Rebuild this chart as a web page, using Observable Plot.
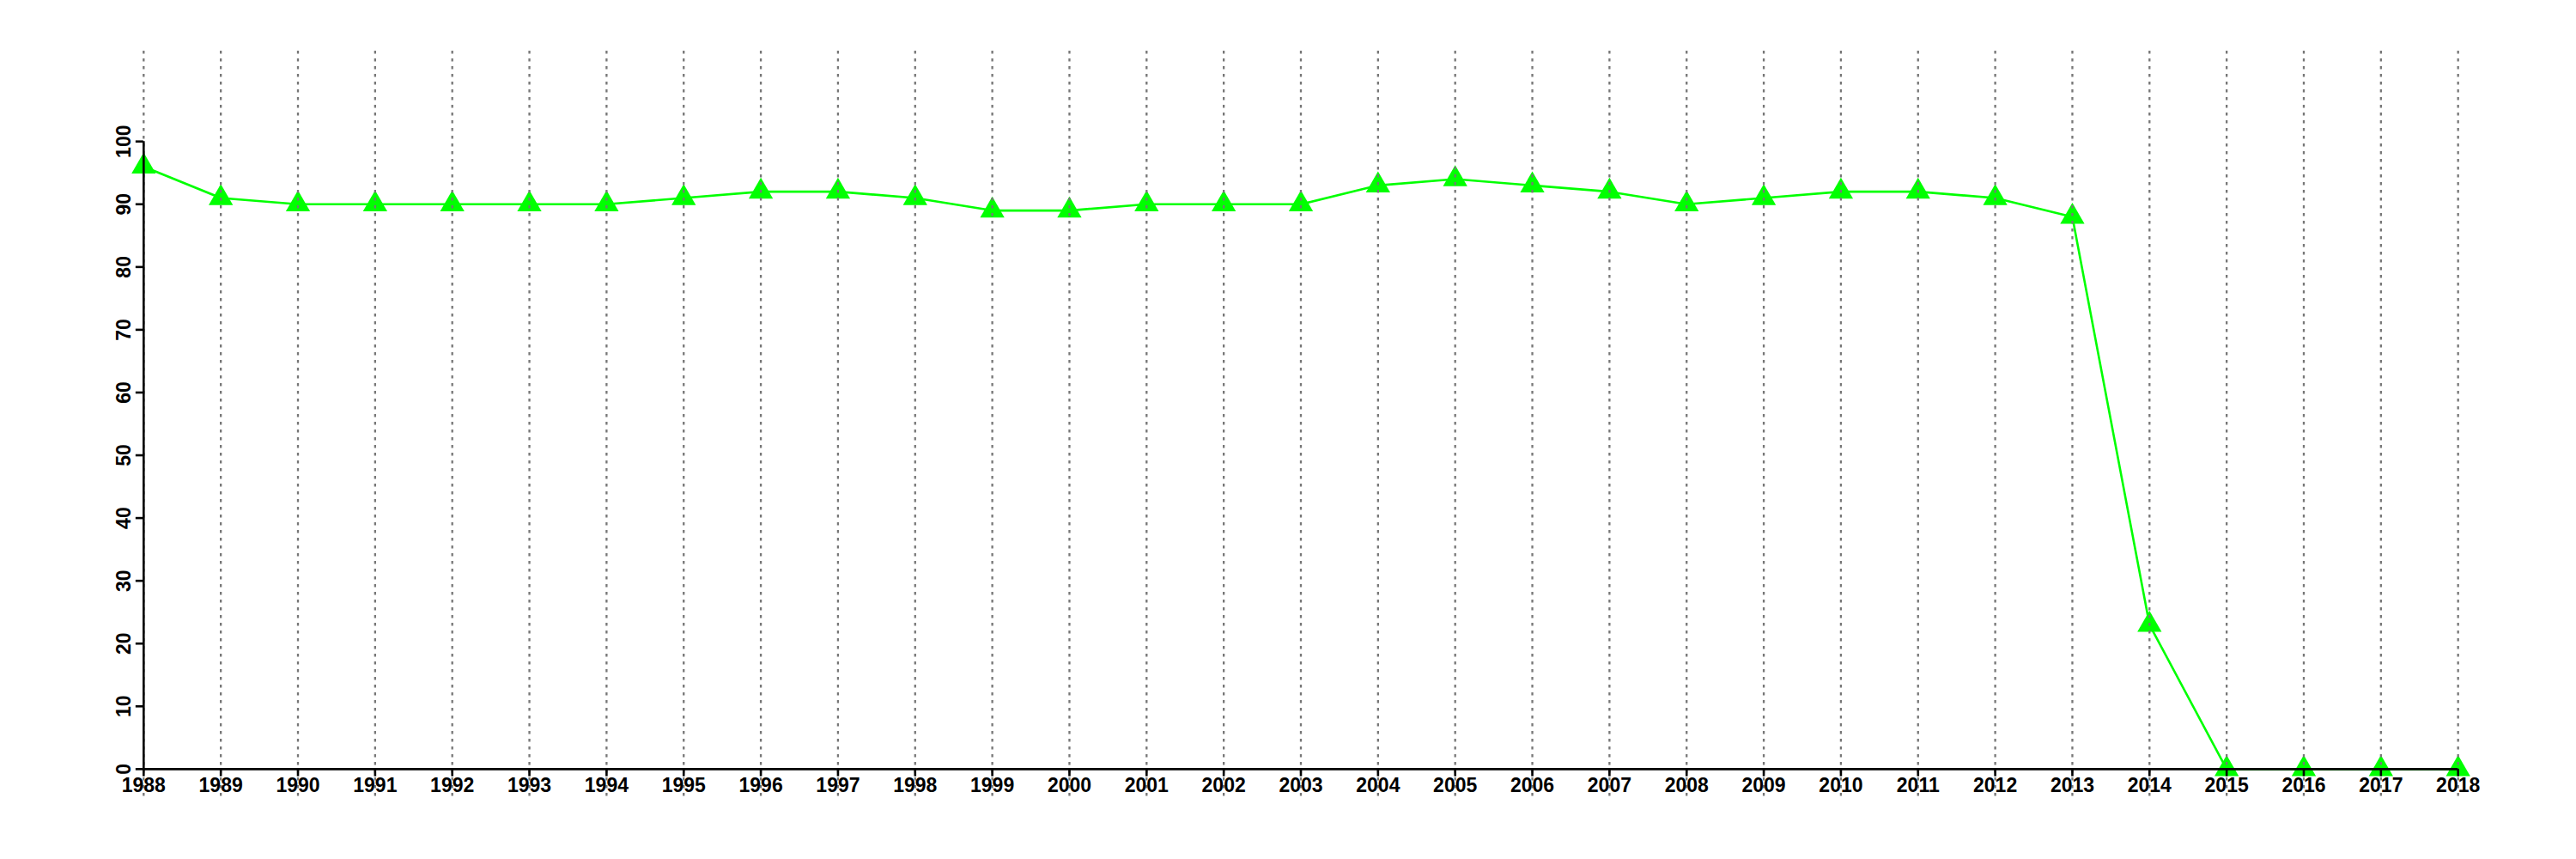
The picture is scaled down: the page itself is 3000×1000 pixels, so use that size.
<!DOCTYPE html>
<html>
<head>
<meta charset="utf-8">
<script src="https://cdn.jsdelivr.net/npm/d3@7"></script>
<script src="https://cdn.jsdelivr.net/npm/@observablehq/plot@0.6"></script>
<style>
  html, body { margin: 0; padding: 0; background: #fff; }
</style>
</head>
<body>
<div id="chart"></div>
<script>
const years = [1988, 1989, 1990, 1991, 1992, 1993, 1994, 1995, 1996, 1997, 1998, 1999, 2000,
  2001, 2002, 2003, 2004, 2005, 2006, 2007, 2008, 2009, 2010, 2011, 2012, 2013, 2014, 2015,
  2016, 2017, 2018];
const values = [96, 91, 90, 90, 90, 90, 90, 91, 92, 92, 91, 89, 89,
  90, 90, 90, 93, 94, 93, 92, 90, 91, 92, 92, 91, 88, 23, 0,
  0, 0, 0];
const yTicks = [0, 10, 20, 30, 40, 50, 60, 70, 80, 90, 100];

const data = years.map((y, i) => ({year: y, value: values[i]}));

const xMin = d3.min(years), xMax = d3.max(years);
const yMin = 0, yMax = 110;
const xPad = (xMax - xMin) * 0.04, yPad = (yMax - yMin) * 0.04;

const font = "'Liberation Sans', Arial, Helvetica, sans-serif";

const chart = Plot.plot({
  width: 3000,
  height: 1000,
  marginLeft: 59,
  marginRight: 30,
  marginTop: 59,
  marginBottom: 73,
  style: {background: "#fff", fontFamily: font},
  x: {domain: [xMin - xPad, xMax + xPad], axis: null},
  y: {domain: [yMin - yPad, yMax + yPad], axis: null},
  marks: [
    Plot.line(data, {x: "year", y: "value", stroke: "#00ff00", strokeWidth: 2.6}),
    Plot.dot(data, {x: "year", y: "value", symbol: "triangle", r: 10.5, fill: "#00ff00", stroke: "none"}),
    Plot.ruleX(years, {stroke: "#777", strokeWidth: 2.3, strokeDasharray: "3.5,5.5"}),
    // x axis line and ticks
    Plot.ruleY([0], {x1: xMin, x2: xMax, stroke: "#000", strokeWidth: 2.6}),
    Plot.ruleX(years, {x: d => d, y1: 0, y2: -1.2, stroke: "#000", strokeWidth: 2.6}),
    Plot.text(years, {x: d => d, y: 0, text: d => String(d), dy: 10, lineAnchor: "top",
      fontSize: 23, fontWeight: "bold", fill: "#000"}),
    // y axis line and ticks
    Plot.ruleX([xMin], {y1: 0, y2: 100, stroke: "#000", strokeWidth: 2.6}),
    Plot.ruleY(yTicks, {y: d => d, x1: xMin, x2: xMin - 0.1, stroke: "#000", strokeWidth: 2.6}),
    Plot.text(yTicks, {x: xMin, y: d => d, text: d => String(d), rotate: -90, dx: -15,
      textAnchor: "middle", lineAnchor: "bottom", fontSize: 23, fontWeight: "bold", fill: "#000"})
  ]
});
document.getElementById("chart").appendChild(chart);
</script>
</body>
</html>
